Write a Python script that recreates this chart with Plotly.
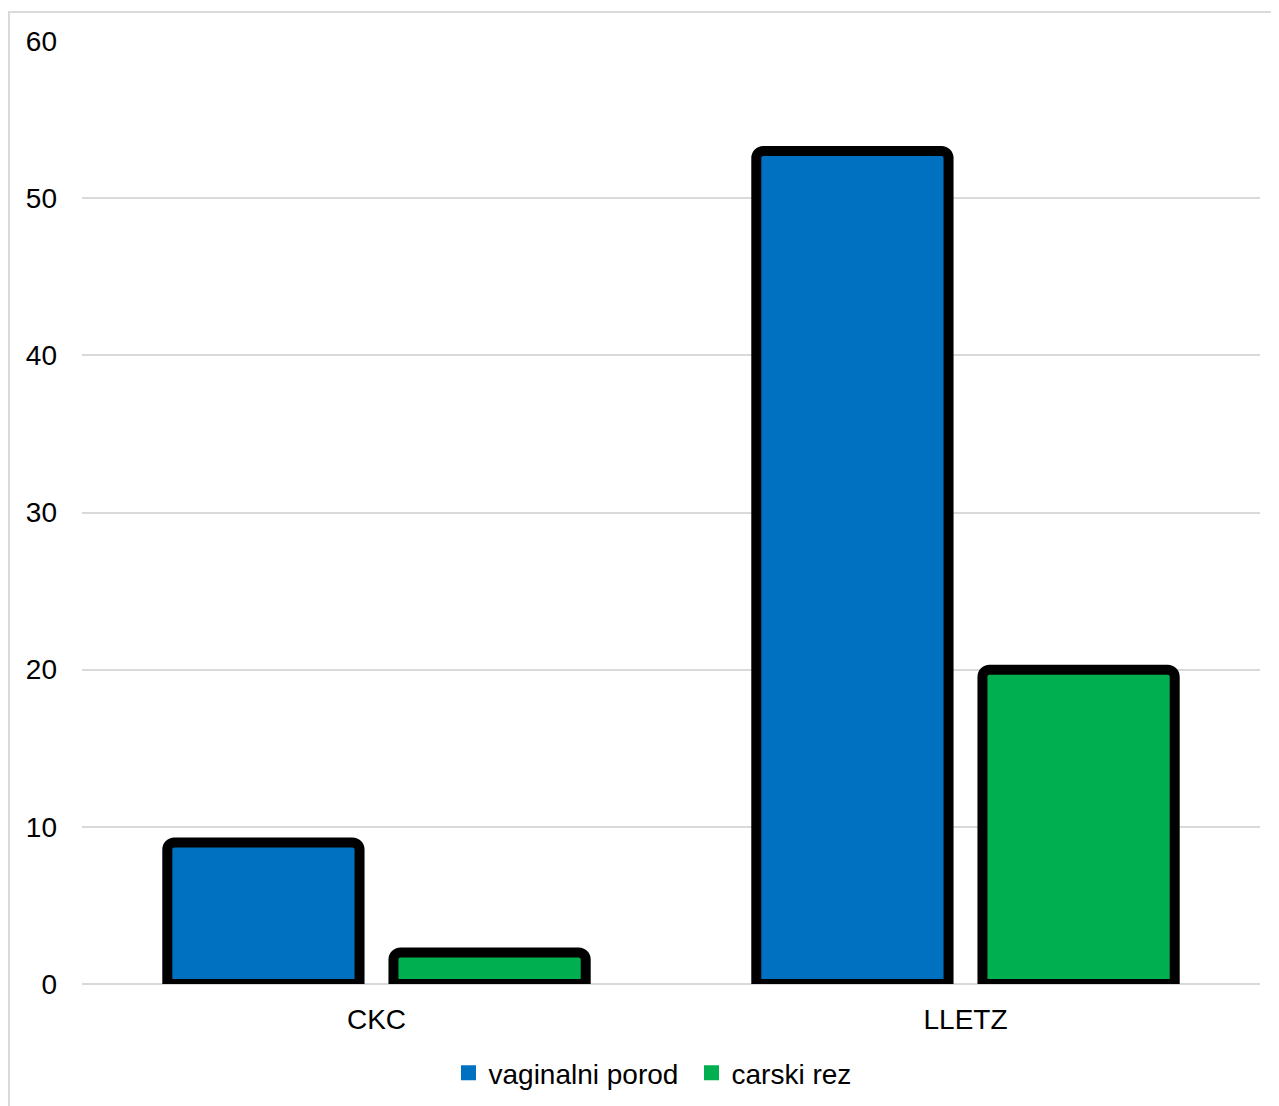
import plotly.graph_objects as go

categories = ["CKC", "LLETZ"]
vaginalni_porod = [9, 53]
carski_rez = [2, 20]
series_names = ["vaginalni porod", "carski rez"]
series_colors = ["#0070C0", "#00B050"]
y_ticks = [0, 10, 20, 30, 40, 50, 60]

FONT = "Liberation Sans, Arial, sans-serif"
FS = 28

fig = go.Figure()
for name, vals, col in zip(series_names, [vaginalni_porod, carski_rez], series_colors):
    fig.add_trace(go.Bar(
        x=categories, y=vals, name=name, showlegend=False,
        marker=dict(color=col, line=dict(color="#000000", width=10), cornerradius=7),
    ))
    # legend-only entry (plain square, no outline)
    fig.add_trace(go.Scatter(
        x=[None], y=[None], mode="markers", name=name,
        marker=dict(symbol="square", size=15, color=col),
    ))

# page body adds an 8px offset; margins compensate for it
W, H = 1279, 1106
ml, mr, mt, mb = 74, 27, 33, 130
pw, ph = W - ml - mr, H - mt - mb

fig.update_layout(
    width=W, height=H,
    margin=dict(l=ml, r=mr, t=mt, b=mb),
    paper_bgcolor="white", plot_bgcolor="white",
    barmode="group", bargap=0.232, bargroupgap=0.15,
    font=dict(family=FONT, size=FS, color="#000000"),
    showlegend=True,
    legend=dict(orientation="h", x=0.5344, xanchor="center", xref="container",
                y=1 - 1065 / H, yanchor="middle", yref="container",
                font=dict(size=FS), itemwidth=30, tracegroupgap=0,
                entrywidth=198, entrywidthmode="pixels"),
    xaxis=dict(showgrid=False, zeroline=False, showline=False, ticks="",
               ticklabelstandoff=16, tickfont=dict(size=FS)),
    yaxis=dict(range=[0, 60], tickvals=y_ticks, showgrid=True, gridcolor="#D9D9D9",
               gridwidth=2, zeroline=True, zerolinecolor="#D9D9D9", zerolinewidth=2,
               showline=False, ticks="", ticklabelstandoff=24, tickfont=dict(size=FS)),
    shapes=[dict(type="rect", xref="paper", yref="paper",
                 x0=(1 - ml) / pw, x1=(W + 20 - ml) / pw,
                 y0=-(H + 20 - (H - mb)) / ph, y1=1 + (mt - 4) / ph,
                 line=dict(color="#D9D9D9", width=2), fillcolor="rgba(0,0,0,0)", layer="below")],
)

fig.write_html("out.html")
